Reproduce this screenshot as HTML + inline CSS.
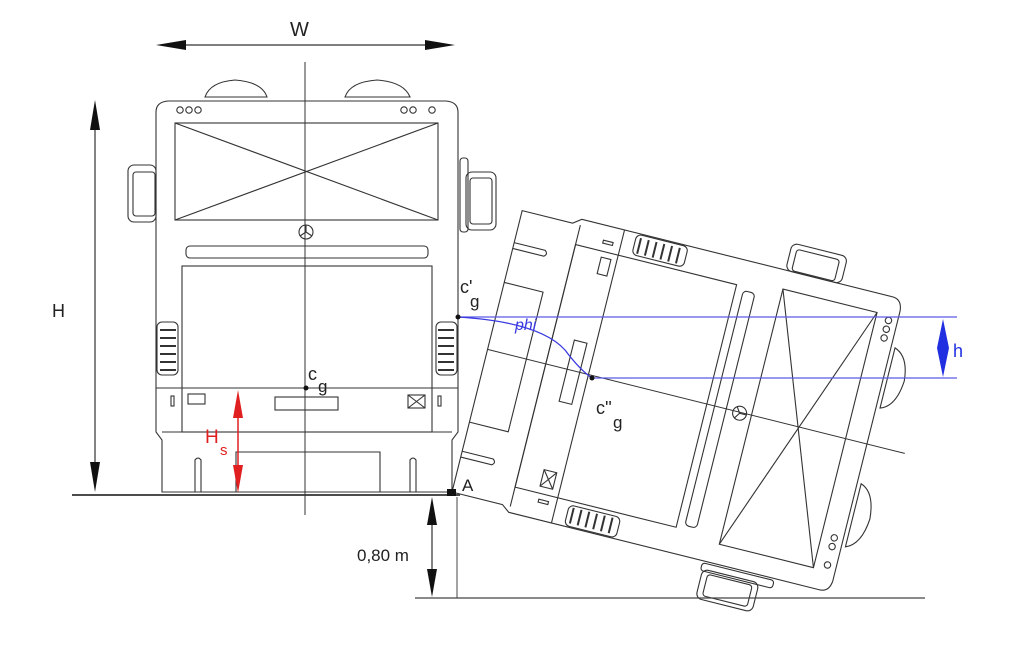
<!DOCTYPE html>
<html><head><meta charset="utf-8"><style>
html,body{margin:0;padding:0;background:#fff;}
svg{display:block;}
text{font-family:"Liberation Sans",sans-serif;}
</style></head><body>
<svg width="1024" height="658" viewBox="0 0 1024 658" xmlns="http://www.w3.org/2000/svg">
<defs>
<g id="bus" fill="none" stroke="#333" stroke-width="1.1">
  <!-- roof hatches -->
  <path d="M205,97 Q210,82 235,80 Q262,82 267,97 Z"/>
  <path d="M345,97 Q350,82 377,80 Q404,82 410,97 Z"/>
  <!-- body -->
  <path d="M156,432 L156,112 Q156,102 168,101 L446,101 Q458,102 458,112 L458,432 L452,440 L452,492 L162,492 L162,440 Z"/>
  <circle cx="180" cy="110" r="3.2"/><circle cx="189" cy="110" r="3.2"/><circle cx="198" cy="110" r="3.2"/>
  <circle cx="404" cy="110" r="3.2"/><circle cx="413" cy="110" r="3.2"/><circle cx="432" cy="110" r="3.2"/>
  <rect x="175" y="123" width="263" height="97"/>
  <line x1="175" y1="123" x2="438" y2="220"/><line x1="438" y1="123" x2="175" y2="220"/>
  <circle cx="306" cy="232" r="7"/>
  <path d="M306,225 L306,232 L300,236 M306,232 L312,236"/>
  <rect x="186" y="246" width="242" height="12" rx="4"/>
  <rect x="182" y="266" width="250" height="166"/>
  <rect x="157" y="322" width="21" height="53" rx="5"/>
  <rect x="436" y="322" width="21" height="53" rx="5"/>
  <g stroke-width="2">
   <path d="M160,330h16M160,338h16M160,346h16M160,354h16M160,362h16M160,370h16"/>
   <path d="M438,330h16M438,338h16M438,346h16M438,354h16M438,362h16M438,370h16"/>
  </g>
  <line x1="156" y1="388" x2="458" y2="388"/>
  <rect x="188" y="394" width="17" height="10"/>
  <rect x="275" y="397" width="63" height="13"/>
  <rect x="408" y="395" width="17" height="13"/>
  <path d="M408,395l17,13M425,395l-17,13"/>
  <rect x="171" y="396" width="3" height="10"/><rect x="438" y="396" width="3" height="10"/>
  <line x1="162" y1="432" x2="452" y2="432"/>
  <path d="M236,492 L236,452 L380,452 L380,492"/>
  <path d="M195,492 L195,460 Q198,456 201,460 L201,492"/>
  <path d="M410,492 L410,460 Q413,456 416,460 L416,492"/>
  <rect x="128" y="165" width="28" height="57" rx="6"/>
  <rect x="133" y="172" width="22" height="44" rx="3"/>
  <rect x="460" y="158" width="8" height="74" rx="3"/>
  <rect x="466" y="172" width="30" height="58" rx="6"/>
  <rect x="470" y="178" width="22" height="46" rx="3"/>
  <line x1="305" y1="62" x2="305" y2="492" stroke-width="1"/>
</g>
</defs>
<!-- upright bus -->
<use href="#bus"/>
<line x1="305" y1="492" x2="305" y2="515" stroke="#333" stroke-width="1"/>
<!-- tilted bus -->
<g transform="rotate(104 452 492)">
  <use href="#bus"/>
</g>
<!-- grounds -->
<line x1="72" y1="495" x2="460" y2="495" stroke="#333" stroke-width="1.8"/>
<line x1="415" y1="598" x2="925" y2="598" stroke="#444" stroke-width="1.3"/>
<line x1="457" y1="497" x2="457" y2="598" stroke="#444" stroke-width="1"/>
<rect x="447" y="489" width="9" height="7" fill="#111"/>
<!-- W -->
<line x1="170" y1="45" x2="440" y2="45" stroke="#333" stroke-width="1.2"/>
<path d="M156,45 L186,40 L186,50 Z M455,45 L425,40 L425,50 Z" fill="#111"/>
<text x="290" y="36" font-size="20" fill="#222">W</text>
<!-- H -->
<line x1="95" y1="115" x2="95" y2="480" stroke="#333" stroke-width="1.2"/>
<path d="M95,100 L90,130 L100,130 Z M95,492 L90,462 L100,462 Z" fill="#111"/>
<text x="52" y="317" font-size="18" fill="#222">H</text>
<!-- Hs red -->
<line x1="238" y1="400" x2="238" y2="482" stroke="#e02020" stroke-width="1.5"/>
<path d="M238,390 L233,418 L243,418 Z M238,493 L233,465 L243,465 Z" fill="#e02020"/>
<text x="205" y="443" font-size="19" fill="#e02020">H</text>
<text x="220" y="455" font-size="15" fill="#e02020">s</text>
<!-- cg -->
<circle cx="306" cy="388" r="2.5" fill="#111"/>
<text x="308" y="380" font-size="18" fill="#222">c</text>
<text x="318" y="392" font-size="17" fill="#222">g</text>
<!-- c'g -->
<text x="460" y="293" font-size="18" fill="#222">c'</text>
<text x="470" y="307" font-size="17" fill="#222">g</text>
<!-- blue -->
<line x1="458" y1="317" x2="957" y2="317" stroke="#5a5ae8" stroke-width="1.3"/>
<line x1="592" y1="378" x2="957" y2="378" stroke="#5a5ae8" stroke-width="1.3"/>
<path d="M458,317 Q540,322 565,350 Q580,370 592,378" fill="none" stroke="#3a3ae0" stroke-width="1.3"/>
<text x="515" y="330" font-size="16" font-style="italic" fill="#3a3ae0">phi</text>
<circle cx="458" cy="317" r="2.5" fill="#111"/>
<circle cx="592" cy="378" r="2.5" fill="#111"/>
<path d="M943,319 L937,348 L949,348 Z M943,377 L937,348 L949,348 Z" fill="#2030e0"/>
<text x="953" y="357" font-size="18" fill="#2030e0">h</text>
<!-- c''g -->
<text x="596" y="414" font-size="18" fill="#222">c''</text>
<text x="613" y="428" font-size="17" fill="#222">g</text>
<!-- A -->
<text x="462" y="491" font-size="17" fill="#222">A</text>
<!-- 0,80 m -->
<line x1="432" y1="510" x2="432" y2="585" stroke="#333" stroke-width="1.2"/>
<path d="M432,497 L427,525 L437,525 Z M432,597 L427,569 L437,569 Z" fill="#111"/>
<text x="357" y="561" font-size="17" fill="#222">0,80 m</text>
</svg>
</body></html>
